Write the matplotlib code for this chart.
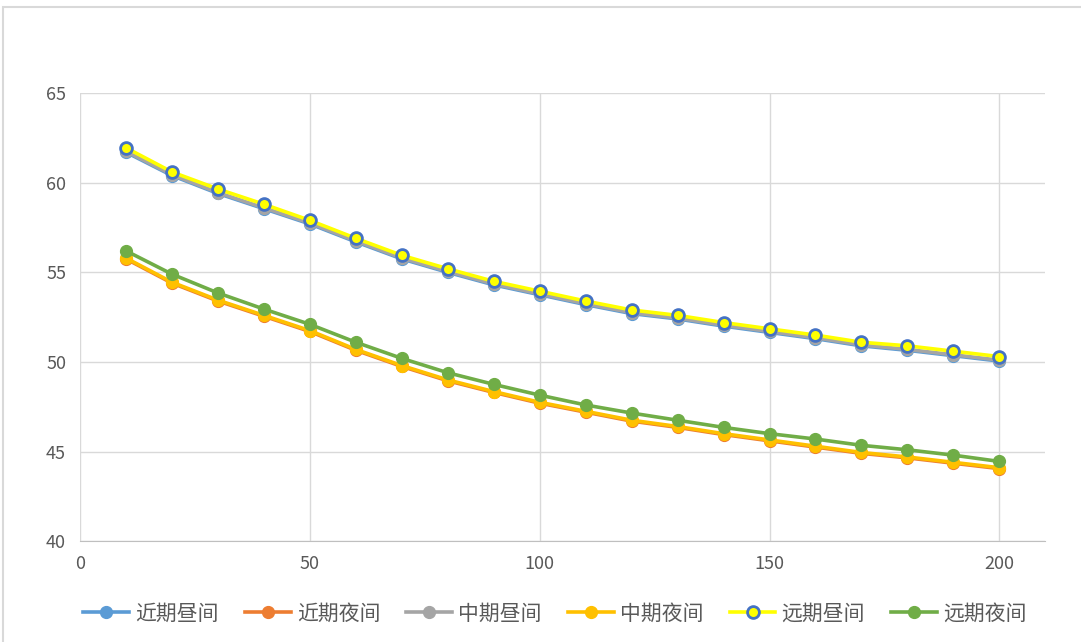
import matplotlib.pyplot as plt
from matplotlib.patches import Rectangle

plt.rcParams['font.family'] = ['Noto Sans CJK SC', 'DejaVu Sans']

x = [10, 20, 30, 40, 50, 60, 70, 80, 90, 100, 110, 120, 130, 140, 150, 160, 170, 180, 190, 200]

near_day = [61.7, 60.4, 59.4, 58.55, 57.7, 56.7, 55.75, 55.0, 54.3, 53.75, 53.2, 52.7, 52.4, 52.0, 51.65, 51.3, 50.9, 50.65, 50.35, 50.05]
near_night = [55.75, 54.4, 53.4, 52.55, 51.7, 50.65, 49.75, 48.95, 48.3, 47.7, 47.2, 46.7, 46.35, 45.95, 45.6, 45.25, 44.9, 44.65, 44.35, 44.05]
mid_day = [61.75, 60.45, 59.45, 58.6, 57.75, 56.75, 55.8, 55.05, 54.35, 53.8, 53.25, 52.75, 52.45, 52.05, 51.7, 51.35, 50.95, 50.7, 50.4, 50.1]
mid_night = [55.8, 54.45, 53.45, 52.6, 51.75, 50.7, 49.8, 49.0, 48.35, 47.75, 47.25, 46.75, 46.4, 46.0, 45.65, 45.3, 44.95, 44.7, 44.4, 44.1]
far_day = [61.95, 60.6, 59.65, 58.8, 57.9, 56.9, 55.95, 55.2, 54.5, 53.95, 53.4, 52.9, 52.6, 52.2, 51.85, 51.5, 51.1, 50.9, 50.6, 50.3]
far_night = [56.2, 54.9, 53.85, 52.95, 52.1, 51.1, 50.2, 49.4, 48.75, 48.15, 47.6, 47.15, 46.75, 46.35, 46.0, 45.7, 45.35, 45.1, 44.8, 44.45]

labels = ['近期昼间', '近期夜间', '中期昼间', '中期夜间', '远期昼间', '远期夜间']

fig = plt.figure(figsize=(10.81, 6.42), dpi=100)
ax = fig.add_axes([0.074, 0.157, 0.893, 0.698])

# outer chart frame
fig.patches.append(Rectangle((0.003, -0.01), 1.2, 0.999, transform=fig.transFigure,
                             fill=False, edgecolor='#D9D9D9', linewidth=1.5))

kw = dict(linewidth=2.6, markersize=8.5)
ax.plot(x, near_day, color='#5B9BD5', marker='o', label=labels[0], **kw)
ax.plot(x, near_night, color='#ED7D31', marker='o', label=labels[1], **kw)
ax.plot(x, mid_day, color='#A5A5A5', marker='o', label=labels[2], **kw)
ax.plot(x, mid_night, color='#FFC000', marker='o', label=labels[3], **kw)
ax.plot(x, far_day, color='#FFFF00', marker='o', markerfacecolor='#FFFF00',
        markeredgecolor='#4472C4', markeredgewidth=2, label=labels[4], **kw)
ax.plot(x, far_night, color='#70AD47', marker='o', label=labels[5], **kw)

ax.set_xlim(0, 210)
ax.set_ylim(40, 65)
ax.set_xticks([0, 50, 100, 150, 200])
ax.set_yticks([40, 45, 50, 55, 60, 65])
ax.grid(True, color='#D9D9D9', linewidth=1)
ax.set_axisbelow(True)
for s in ['top', 'right', 'left']:
    ax.spines[s].set_visible(False)
ax.spines['bottom'].set_color('#BFBFBF')
ax.tick_params(length=0, labelsize=13, labelcolor='#595959', pad=10)

ax.legend(loc='upper center', bbox_to_anchor=(0.492, -0.095), ncol=6, frameon=False,
          fontsize=15, handlelength=2.2, columnspacing=1.25, handletextpad=0.3,
          labelcolor='#595959')

fig.savefig('out.png', dpi=100)
